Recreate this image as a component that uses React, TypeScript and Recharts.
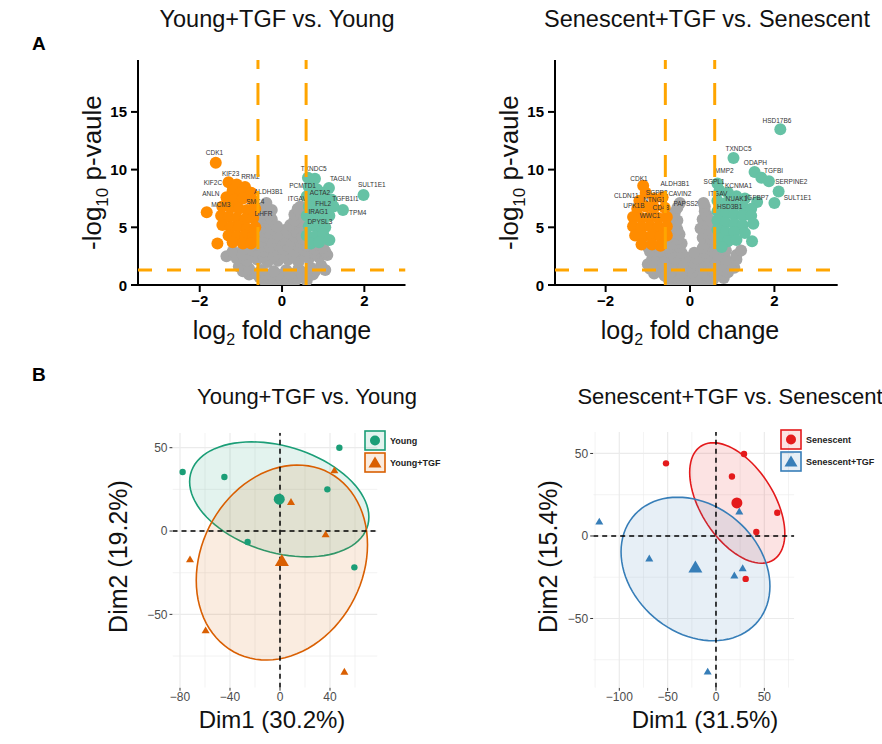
import React from 'react';
import { ScatterChart, Scatter, XAxis, YAxis } from 'recharts';

const FONT = '"Liberation Sans", Arial, Helvetica, sans-serif';

// ---------------- Panel A : volcano plots ----------------
const volcanoXTicks = [-2, 0, 2];
const volcanoYTicks = [0, 5, 10, 15];
const fcCut = 0.585;
const pCut = 1.3;
const yTop = 19.5;

const youngGray = [
  [-0.3, 0.2], [-0.1, 0.1], [0.1, 0.15], [0.3, 0.3],
  [-0.45, 0.45], [-0.2, 0.35], [0.05, 0.3], [0.35, 0.5], [0.6, 0.4],
  [-0.8, 0.9], [-0.55, 0.7], [-0.3, 0.6], [0, 0.5], [0.25, 0.7], [0.5, 0.8], [0.75, 0.9],
  [-0.95, 1.2], [-0.65, 1.0], [-0.4, 0.95], [-0.1, 0.9], [0.2, 1.0], [0.5, 1.1], [0.8, 1.2], [1.05, 1.3],
  [-1.05, 1.6], [-0.8, 1.4], [-0.5, 1.3], [-0.2, 1.2], [0.1, 1.3], [0.4, 1.4], [0.7, 1.5], [0.95, 1.7],
  [-1.35, 2.5], [-1.1, 2.3], [-0.85, 2.1], [-0.6, 2.2], [-0.35, 2.0], [-0.1, 2.1], [0.15, 2.2], [0.4, 2.0], [0.65, 2.3], [0.9, 2.4], [1.1, 2.6],
  [-1.2, 2.9], [-0.95, 2.6], [-0.7, 2.6], [-0.45, 2.5], [-0.2, 2.5], [0.05, 2.6], [0.3, 2.5], [0.55, 2.6], [0.8, 2.7], [1.05, 2.9],
  [-0.95, 3.1], [-0.7, 3.0], [-0.45, 2.9], [-0.2, 3.0], [0.05, 3.1], [0.3, 2.9], [0.55, 3.0], [0.8, 3.1], [1.0, 3.2],
  [-0.75, 3.4], [-0.5, 3.35], [-0.3, 3.3], [-0.05, 3.4], [0.15, 3.35], [0.4, 3.4], [0.6, 3.4], [0.85, 3.5],
  [-0.5, 3.8], [-0.25, 3.7], [0, 3.9], [0.2, 3.8], [0.45, 3.7],
  [-0.45, 4.2], [-0.2, 4.1], [0.05, 4.2], [0.3, 4.2], [0.5, 4.0],
  [-0.5, 4.6], [-0.3, 4.5], [-0.1, 4.4], [0.15, 4.5], [0.35, 4.6], [0.5, 4.4],
  [-0.45, 5.0], [-0.25, 4.9], [0.1, 4.8], [0.3, 4.9], [0.5, 5.0],
  [-0.5, 5.4], [-0.3, 5.3], [-0.12, 5.1], [0.2, 5.2], [0.4, 5.5],
  [-0.45, 5.8], [-0.25, 5.7], [0.3, 5.6], [0.5, 5.9],
  [-0.45, 6.2], [-0.3, 6.0], [0.3, 6.1], [0.45, 6.3],
  [-0.45, 6.7], [-0.25, 6.5], [0.45, 6.8],
  [-0.38, 7.1], [0.38, 6.6],
];
const youngDown = [
  [-1.61, 10.6], [-1.83, 6.3], [-1.57, 3.6],
  [-1.3, 8.9], [-1.1, 8.7], [-0.9, 8.5], [-1.2, 8.2], [-1.0, 8.0], [-0.75, 8.0],
  [-1.35, 7.6], [-1.15, 7.4], [-0.95, 7.5], [-0.7, 7.3],
  [-1.45, 6.8], [-1.25, 6.7], [-1.05, 6.6], [-0.85, 6.5], [-0.65, 6.6],
  [-1.48, 6.0], [-1.3, 5.9], [-1.1, 5.8], [-0.9, 5.7], [-0.7, 5.8],
  [-1.45, 5.2], [-1.25, 5.0], [-1.05, 5.1], [-0.85, 4.9], [-0.65, 5.0],
  [-1.3, 4.3], [-1.1, 4.2], [-0.9, 4.3], [-0.7, 4.2],
  [-1.2, 3.7], [-0.95, 3.6], [-0.75, 3.6],
];
const youngUp = [
  [0.63, 9.3], [0.8, 9.2], [1.14, 8.4], [1.98, 7.8], [1.48, 6.5],
  [0.65, 8.5], [0.85, 8.3], [1.0, 8.0],
  [0.6, 7.7], [0.8, 7.5], [1.0, 7.3], [1.2, 7.4],
  [0.65, 6.8], [0.85, 6.6], [1.05, 6.5], [1.25, 6.8],
  [0.6, 6.0], [0.8, 5.9], [1.0, 5.7], [1.15, 6.0],
  [0.65, 5.1], [0.85, 5.0], [1.05, 5.0],
  [0.6, 4.3], [0.8, 4.2], [1.0, 4.4], [1.15, 3.9],
  [0.7, 3.6], [0.9, 3.7],
];
const youngLabels = [
  { x: -1.64, y: 11.5, name: 'CDK1' }, { x: -1.25, y: 9.7, name: 'KIF23' }, { x: -0.77, y: 9.4, name: 'RRM2' },
  { x: -1.68, y: 8.9, name: 'KIF2C' }, { x: -1.73, y: 7.9, name: 'ANLN' }, { x: -0.33, y: 8.1, name: 'ALDH3B1' },
  { x: -1.49, y: 7.0, name: 'MCM3' }, { x: -0.65, y: 7.2, name: 'SMC4' }, { x: -0.45, y: 6.2, name: 'DHFR' },
  { x: 0.77, y: 10.1, name: 'TXNDC5' }, { x: 1.42, y: 9.2, name: 'TAGLN' }, { x: 2.18, y: 8.7, name: 'SULT1E1' },
  { x: 0.5, y: 8.6, name: 'PCMTD1' }, { x: 0.92, y: 8.0, name: 'ACTA2' }, { x: 0.37, y: 7.5, name: 'ITGAV' },
  { x: 1.54, y: 7.5, name: 'TGFB1I1' }, { x: 1.0, y: 7.1, name: 'FHL2' }, { x: 1.84, y: 6.3, name: 'TPM4' },
  { x: 0.88, y: 6.4, name: 'IRAG1' }, { x: 0.92, y: 5.5, name: 'DPYSL3' },
];

const senGray = [
  [-0.35, 0.2], [-0.1, 0.1], [0.15, 0.2], [0.4, 0.3],
  [-0.5, 0.45], [-0.25, 0.35], [0, 0.3], [0.25, 0.4], [0.55, 0.5], [0.8, 0.6],
  [-0.85, 1.0], [-0.6, 0.8], [-0.35, 0.7], [-0.1, 0.6], [0.15, 0.7], [0.4, 0.8], [0.65, 0.9], [0.9, 1.1],
  [-0.95, 1.4], [-0.7, 1.2], [-0.45, 1.1], [-0.2, 1.0], [0.05, 1.1], [0.3, 1.2], [0.55, 1.2], [0.8, 1.3], [1.05, 1.5],
  [-1.0, 1.8], [-0.75, 1.6], [-0.5, 1.5], [-0.25, 1.4], [0, 1.5], [0.25, 1.6], [0.5, 1.5], [0.75, 1.7], [1.0, 1.9],
  [-0.9, 2.2], [-0.65, 2.0], [-0.4, 1.9], [-0.15, 1.9], [0.1, 1.9], [0.35, 2.0], [0.6, 2.1], [0.85, 2.2], [1.1, 2.2],
  [-0.85, 2.6], [-0.6, 2.4], [-0.35, 2.3], [-0.1, 2.4], [0.15, 2.3], [0.4, 2.5], [0.65, 2.6], [1.1, 2.6],
  [-0.95, 2.9], [-0.7, 2.9], [-0.45, 2.8], [-0.2, 2.8], [0.1, 2.8], [0.35, 2.8], [0.55, 2.9], [0.85, 3.0],
  [-1.0, 3.3], [-0.5, 3.2], [-0.25, 3.3], [0.3, 3.2], [0.5, 3.4], [1.21, 3.0],
  [-0.45, 3.6], [-0.2, 3.6], [0.35, 3.6], [0.55, 3.7],
  [-0.5, 4.1], [-0.3, 4.0], [0.3, 4.1], [0.5, 4.0],
  [-0.45, 4.5], [-0.25, 4.4], [0.35, 4.5], [0.52, 4.4],
  [-0.5, 4.9], [-0.3, 4.8], [0.25, 4.9], [0.45, 4.8],
  [-0.5, 5.3], [-0.35, 5.2], [0.35, 5.3], [0.5, 5.2],
  [-0.45, 5.7], [-0.3, 5.6], [0.3, 5.7], [0.47, 5.6],
  [-0.4, 6.0], [0.4, 6.0],
  [-0.36, 6.3], [0.35, 6.4],
  [-0.3, 6.7], [0.35, 6.8],
  [-0.24, 7.1], [0.32, 7.1],
];
const senDown = [
  [-1.11, 8.6], [-1.05, 8.0], [-1.2, 7.3], [-0.85, 7.5], [-0.65, 7.6],
  [-1.25, 6.6], [-1.05, 6.8], [-0.85, 6.7], [-0.6, 6.7],
  [-1.35, 5.9], [-1.15, 5.8], [-0.95, 5.9], [-0.75, 5.8], [-0.55, 5.9],
  [-1.35, 5.1], [-1.15, 5.0], [-0.95, 5.1], [-0.75, 5.0], [-0.55, 5.1],
  [-1.3, 4.3], [-1.1, 4.2], [-0.9, 4.3], [-0.7, 4.2], [-0.55, 4.3],
  [-1.15, 3.5], [-0.9, 3.5], [-0.7, 3.4],
];
const senUp = [
  [2.14, 13.5], [1.03, 11.0], [1.53, 9.8], [1.69, 9.3], [1.87, 9.0], [2.1, 8.1], [2.0, 7.1], [1.59, 7.2], [1.47, 3.8],
  [0.65, 8.8], [0.7, 8.2], [0.9, 8.0], [1.1, 7.7], [1.3, 7.5],
  [0.65, 7.3], [0.85, 7.1], [1.05, 6.9], [1.25, 6.8], [1.45, 6.6],
  [0.65, 6.4], [0.85, 6.2], [1.05, 6.1], [1.25, 6.0], [1.45, 6.0],
  [0.65, 5.6], [0.85, 5.4], [1.05, 5.3], [1.25, 5.2], [1.5, 5.3],
  [0.65, 4.8], [0.85, 4.6], [1.05, 4.6], [1.3, 4.5],
  [0.7, 4.0], [0.9, 3.8], [1.1, 3.9],
  [0.75, 3.3],
];
const senLabels = [
  { x: 2.06, y: 14.3, name: 'HSD17B6' }, { x: 1.15, y: 11.8, name: 'TXNDC5' }, { x: 1.55, y: 10.6, name: 'ODAPH' },
  { x: 1.98, y: 9.9, name: 'TGFBI' }, { x: 2.4, y: 9.0, name: 'SERPINE2' }, { x: 2.55, y: 7.6, name: 'SULT1E1' },
  { x: 0.81, y: 9.9, name: 'MMP2' }, { x: 0.57, y: 9.0, name: 'SGPL1' }, { x: 1.15, y: 8.6, name: 'KCNMA1' },
  { x: 0.66, y: 7.9, name: 'ITGAV' }, { x: 1.1, y: 7.5, name: 'NUAK1' }, { x: 1.59, y: 7.6, name: 'IGFBP7' },
  { x: 0.94, y: 6.8, name: 'HSD3B1' }, { x: -1.21, y: 9.2, name: 'CDK1' }, { x: -0.36, y: 8.8, name: 'ALDH3B1' },
  { x: -1.51, y: 7.8, name: 'CLDN11' }, { x: -0.79, y: 8.0, name: 'SGPP2' }, { x: -0.24, y: 7.9, name: 'CAVIN2' },
  { x: -0.85, y: 7.4, name: 'NTNG1' }, { x: -1.33, y: 6.9, name: 'UPK1B' }, { x: -0.69, y: 6.7, name: 'CD48' },
  { x: -0.1, y: 7.1, name: 'PAPSS2' }, { x: -0.95, y: 6.0, name: 'WWC1' },
];

// ---------------- Panel B : PCA plots ----------------
const youngPts = [[47.5, 50], [-77.9, 35.4], [-44.5, 32.4], [37.9, 25], [-25.9, -6.6], [59.5, -21.8]];
const youngTgfPts = [[43.5, 36], [8.8, 17], [36.5, -2.4], [-72, -17.4], [-59.5, -60], [51.5, -84.8]];
const youngCentroid = [[-0.6, 19.1]];
const youngTgfCentroid = [[1.5, -18.6]];
const senPts = [[29, 49.7], [-51.7, 44], [16.5, 36], [63.4, 14.1], [41.7, 2.4], [30.7, -26]];
const senTgfPts = [[24.1, 14.4], [-120.7, 8.3], [-69, -14.1], [27.6, -20], [19, -24.4], [-8.6, -82.6]];
const senCentroid = [[21.6, 20]];
const senTgfCentroid = [[-21.3, -19.7]];

// ellipse: centre, half-extent in x, half-extent in y, y-offset at x-extreme
const ellYoung = { cx: -0.6, cy: 19, w: 71.7, h: 34.5, k: -10.6 };
const ellYoungTgf = { cx: 1.5, cy: -18.9, w: 68.5, h: 58.5, k: 10.7 };
const ellSen = { cx: 22, cy: 20, w: 49.2, h: 36.5, k: -18.5 };
const ellSenTgf = { cx: -21.2, cy: -20, w: 77, h: 43.5, k: -10.4 };

const b1XTicks = [-80, -40, 0, 40];
const b1XMinor = [-60, -20, 20, 60];
const b1XDomain = [-86, 78];
const b1YDomain = [-94, 59];
const b2XTicks = [-100, -50, 0, 50];
const b2XMinor = [-125, -75, -25, 25, 75];
const b2XDomain = [-127, 81];
const b2YDomain = [-92, 63];
const pcaYTicks = [-50, 0, 50];
const pcaYMinor = [-75, -25, 25];

// ---------------- helpers ----------------
const toXY = (a: number[][]) => a.map(([x, y]) => ({ x, y }));
const fmt = (v: number) => (v < 0 ? `\u2212${-v}` : `${v}`);
const nothing = () => <g />;

const dot = (r: number, color: string) => (p: any) => <circle cx={p.cx} cy={p.cy} r={r} fill={color} />;
const tri = (s: number, color: string) => (p: any) => {
  const h = s * 0.866;
  return (
    <path
      d={`M${p.cx},${p.cy - (h * 2) / 3}L${p.cx + s / 2},${p.cy + h / 3}L${p.cx - s / 2},${p.cy + h / 3}Z`}
      fill={color}
    />
  );
};
const geneText = (p: any) => (
  <text x={p.cx} y={p.cy} fontSize={6.5} fontFamily={FONT} textAnchor="middle" dominantBaseline="central" fill="#333">
    {p.payload.name}
  </text>
);
const boldXTick = (p: any) => (
  <text x={p.x} y={p.y + 12} textAnchor="middle" fontSize={15} fontWeight={700} fontFamily={FONT} fill="#000">
    {fmt(p.payload.value)}
  </text>
);
const boldYTick = (p: any) => (
  <text x={p.x - 2} y={p.y + 5.5} textAnchor="end" fontSize={15} fontWeight={700} fontFamily={FONT} fill="#000">
    {fmt(p.payload.value)}
  </text>
);

const ellipsePoints = (e: any) => {
  const pts: { x: number; y: number }[] = [];
  const m = Math.sqrt(e.h * e.h - e.k * e.k);
  for (let i = 0; i < 90; i++) {
    const t = (i / 90) * 2 * Math.PI;
    pts.push({ x: e.cx + e.w * Math.cos(t), y: e.cy + e.k * Math.cos(t) + m * Math.sin(t) });
  }
  return pts;
};
const closedPath = (stroke: string, fill: string) => (props: any) => {
  const pts = props.points || [];
  const d = pts.map((p: any, i: number) => `${i ? 'L' : 'M'}${p.x},${p.y}`).join('') + 'Z';
  return <path d={d} fill={fill} stroke={stroke} strokeWidth={1.6} />;
};

const segment = (key: string, a: any, b: any, stroke: string, width: number, dash?: string) => (
  <Scatter
    key={key}
    data={[a, b]}
    isAnimationActive={false}
    shape={nothing}
    line={{ stroke, strokeWidth: width, strokeDasharray: dash }}
    lineType="joint"
  />
);

const Abs = ({ x, y, w, children, style }: any) => (
  <div
    style={{
      position: 'absolute',
      left: x - w / 2,
      top: y,
      width: w,
      textAlign: 'center',
      fontFamily: FONT,
      whiteSpace: 'nowrap',
      lineHeight: 1,
      color: '#111',
      ...style,
    }}
  >
    {children}
  </div>
);
const Rot = ({ x, y, children, size }: any) => (
  <div
    style={{
      position: 'absolute',
      left: x - 150,
      top: y - size / 2,
      width: 300,
      textAlign: 'center',
      fontFamily: FONT,
      fontSize: size,
      lineHeight: 1,
      whiteSpace: 'nowrap',
      transform: 'rotate(-90deg)',
      transformOrigin: '150px 50%',
      color: '#111',
    }}
  >
    {children}
  </div>
);

// ---------------- volcano chart ----------------
function Volcano({ left, width, margin, xDomain, gray, down, up, labels }: any) {
  const axisStyle = { stroke: '#000', strokeWidth: 2 };
  return (
    <div style={{ position: 'absolute', left, top: 0 }}>
      <ScatterChart width={width} height={350} margin={margin}>
        <XAxis
          type="number"
          dataKey="x"
          domain={xDomain}
          ticks={volcanoXTicks}
          allowDataOverflow
          height={30}
          axisLine={axisStyle}
          tickLine={axisStyle}
          tickSize={7}
          tick={boldXTick}
        />
        <YAxis
          type="number"
          dataKey="y"
          domain={[0, yTop]}
          ticks={volcanoYTicks}
          allowDataOverflow
          width={60}
          axisLine={axisStyle}
          tickLine={axisStyle}
          tickSize={7}
          tick={boldYTick}
        />
        <Scatter data={toXY(gray)} shape={dot(6, '#A6A6A6')} isAnimationActive={false} />
        <Scatter data={toXY(down)} shape={dot(6, '#FF8C00')} isAnimationActive={false} />
        <Scatter data={toXY(up)} shape={dot(6, '#66C2A5')} isAnimationActive={false} />
        <Scatter data={labels} shape={geneText} isAnimationActive={false} />
        {segment('v1', { x: -fcCut, y: 0 }, { x: -fcCut, y: yTop }, '#FFA500', 3, '22 14')}
        {segment('v2', { x: fcCut, y: 0 }, { x: fcCut, y: yTop }, '#FFA500', 3, '22 14')}
        {segment('h1', { x: xDomain[0], y: pCut }, { x: xDomain[1], y: pCut }, '#FFA500', 3, '14 15')}
      </ScatterChart>
    </div>
  );
}

// ---------------- PCA chart ----------------
function Pca({ left, width, margin, xDomain, yDomain, xTicks, xMinor, groups, legend }: any) {
  const grid: any[] = [];
  [...xTicks, ...xMinor].forEach((v: number, i: number) =>
    grid.push(segment(`gx${i}`, { x: v, y: yDomain[0] }, { x: v, y: yDomain[1] }, '#EBEBEB', i < xTicks.length ? 1.2 : 0.6)),
  );
  [...pcaYTicks, ...pcaYMinor].forEach((v: number, i: number) =>
    grid.push(segment(`gy${i}`, { x: xDomain[0], y: v }, { x: xDomain[1], y: v }, '#EBEBEB', i < pcaYTicks.length ? 1.2 : 0.6)),
  );
  const tickStyle = { fill: '#4D4D4D', fontSize: 12, fontFamily: FONT };
  return (
    <div style={{ position: 'absolute', left, top: 380 }}>
      <ScatterChart width={width} height={364} margin={margin}>
        <XAxis
          type="number"
          dataKey="x"
          domain={xDomain}
          ticks={xTicks}
          allowDataOverflow
          height={20}
          axisLine={false}
          tickLine={{ stroke: '#333' }}
          tickSize={3}
          tick={tickStyle}
          tickFormatter={fmt}
        />
        <YAxis
          type="number"
          dataKey="y"
          domain={yDomain}
          ticks={pcaYTicks}
          allowDataOverflow
          width={40}
          axisLine={false}
          tickLine={{ stroke: '#333' }}
          tickSize={3}
          tick={tickStyle}
          tickFormatter={fmt}
        />
        {grid}
        {groups.map((g: any, i: number) => (
          <Scatter
            key={`e${i}`}
            data={ellipsePoints(g.ellipse)}
            shape={nothing}
            line={closedPath(g.color, g.fill)}
            lineType="joint"
            isAnimationActive={false}
          />
        ))}
        {segment('z1', { x: 0, y: yDomain[0] }, { x: 0, y: yDomain[1] }, '#000', 1.5, '5 4')}
        {segment('z2', { x: xDomain[0], y: 0 }, { x: xDomain[1], y: 0 }, '#000', 1.5, '5 4')}
        {groups.map((g: any, i: number) => (
          <Scatter
            key={`p${i}`}
            data={toXY(g.pts)}
            shape={g.tri ? tri(8, g.color) : dot(3.2, g.color)}
            isAnimationActive={false}
          />
        ))}
        {groups.map((g: any, i: number) => (
          <Scatter
            key={`c${i}`}
            data={toXY(g.centroid)}
            shape={g.tri ? tri(14, g.color) : dot(5.5, g.color)}
            isAnimationActive={false}
          />
        ))}
      </ScatterChart>
      {legend}
    </div>
  );
}

const LegendBox = ({ x, y, color, fill, triangle, text }: any) => (
  <div style={{ position: 'absolute', left: x, top: y, display: 'flex', alignItems: 'center' }}>
    <svg width={22} height={21}>
      <rect x={1} y={1} width={20} height={19} fill={fill} stroke={color} strokeWidth={1.6} />
      {triangle ? (
        <path d="M11,4.5L17.5,15.5L4.5,15.5Z" fill={color} />
      ) : (
        <circle cx={11} cy={10.5} r={5} fill={color} />
      )}
    </svg>
    <span style={{ marginLeft: 4, fontFamily: FONT, fontSize: 9, fontWeight: 'bold', color: '#222' }}>{text}</span>
  </div>
);

export default function App() {
  const green = '#1B9E77';
  const orange = '#D95F02';
  const red = '#E41A1C';
  const blue = '#377EB8';
  const b1Groups = [
    { pts: youngPts, centroid: youngCentroid, ellipse: ellYoung, color: green, fill: 'rgba(27,158,119,0.12)', tri: false },
    { pts: youngTgfPts, centroid: youngTgfCentroid, ellipse: ellYoungTgf, color: orange, fill: 'rgba(217,95,2,0.12)', tri: true },
  ];
  const b2Groups = [
    { pts: senPts, centroid: senCentroid, ellipse: ellSen, color: red, fill: 'rgba(228,26,28,0.12)', tri: false },
    { pts: senTgfPts, centroid: senTgfCentroid, ellipse: ellSenTgf, color: blue, fill: 'rgba(55,126,184,0.12)', tri: true },
  ];
  return (
    <div style={{ position: 'absolute', left: 0, top: 0, width: 882, height: 744, background: '#fff', overflow: 'hidden' }}>
      <Volcano
        left={0}
        width={420}
        margin={{ top: 60, right: 14.5, bottom: 35, left: 78 }}
        xDomain={[-3.5, 3]}
        gray={youngGray}
        down={youngDown}
        up={youngUp}
        labels={youngLabels}
      />
      <Volcano
        left={420}
        width={440}
        margin={{ top: 60, right: 22.3, bottom: 35, left: 75 }}
        xDomain={[-3.2, 3.5]}
        gray={senGray}
        down={senDown}
        up={senUp}
        labels={senLabels}
      />
      <Pca
        left={0}
        width={440}
        margin={{ top: 52.7, right: 62.5, bottom: 36.3, left: 132.5 }}
        xDomain={b1XDomain}
        yDomain={b1YDomain}
        xTicks={b1XTicks}
        xMinor={b1XMinor}
        groups={b1Groups}
        legend={
          <>
            <LegendBox x={364} y={50} color={green} fill="rgba(27,158,119,0.12)" text="Young" />
            <LegendBox x={364} y={72} color={orange} fill="rgba(217,95,2,0.12)" triangle text="Young+TGF" />
          </>
        }
      />
      <Pca
        left={440}
        width={442}
        margin={{ top: 52, right: 87.7, bottom: 36.2, left: 113.2 }}
        xDomain={b2XDomain}
        yDomain={b2YDomain}
        xTicks={b2XTicks}
        xMinor={b2XMinor}
        groups={b2Groups}
        legend={
          <>
            <LegendBox x={340} y={49} color={red} fill="rgba(228,26,28,0.12)" text="Senescent" />
            <LegendBox x={340} y={71} color={blue} fill="rgba(55,126,184,0.12)" triangle text="Senescent+TGF" />
          </>
        }
      />

      {/* panel letters */}
      <div style={{ position: 'absolute', left: 32, top: 33, fontFamily: FONT, fontWeight: 'bold', fontSize: 19 }}>A</div>
      <div style={{ position: 'absolute', left: 32, top: 364, fontFamily: FONT, fontWeight: 'bold', fontSize: 19 }}>B</div>

      {/* titles */}
      <Abs x={277} y={8} w={360} style={{ fontSize: 23.5 }}>Young+TGF vs. Young</Abs>
      <Abs x={707} y={8} w={360} style={{ fontSize: 23.5 }}>Senescent+TGF vs. Senescent</Abs>
      <Abs x={307} y={386} w={360} style={{ fontSize: 22 }}>Young+TGF vs. Young</Abs>
      <Abs x={730} y={386} w={360} style={{ fontSize: 22 }}>Senescent+TGF vs. Senescent</Abs>

      {/* volcano axis labels */}
      <Abs x={282} y={318} w={300} style={{ fontSize: 25 }}>
        log<sub style={{ fontSize: 16 }}>2</sub> fold change
      </Abs>
      <Abs x={690} y={318} w={300} style={{ fontSize: 25 }}>
        log<sub style={{ fontSize: 16 }}>2</sub> fold change
      </Abs>
      <Rot x={95} y={170} size={26}>
        -log<sub style={{ fontSize: 17 }}>10</sub> p-vaule
      </Rot>
      <Rot x={512} y={170} size={26}>
        -log<sub style={{ fontSize: 17 }}>10</sub> p-vaule
      </Rot>

      {/* PCA axis labels */}
      <Abs x={272} y={708} w={300} style={{ fontSize: 24 }}>Dim1 (30.2%)</Abs>
      <Abs x={705} y={708} w={300} style={{ fontSize: 24 }}>Dim1 (31.5%)</Abs>
      <Rot x={118} y={556} size={25}>Dim2 (19.2%)</Rot>
      <Rot x={548} y={556} size={25}>Dim2 (15.4%)</Rot>
    </div>
  );
}
